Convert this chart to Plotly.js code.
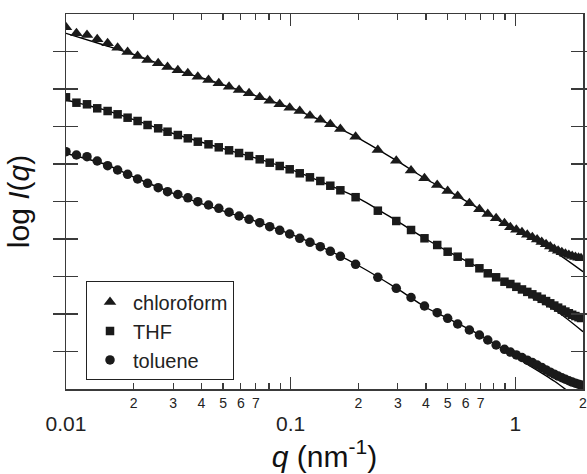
<!DOCTYPE html>
<html>
<head>
<meta charset="utf-8">
<script src="https://cdn.plot.ly/plotly-3.0.1.min.js"></script>
<style>html,body{margin:0;padding:0;background:#fff;}#chart{width:587px;height:474px;}</style>
</head>
<body>
<div id="chart"></div>
<script>
// shared scattering vector grid, q (nm^-1)
const q = [0.0100, 0.01113, 0.0124, 0.01377, 0.01532, 0.01697, 0.0188, 0.02083, 0.02307, 0.02572,
  0.02831, 0.03146, 0.03485, 0.03861, 0.04308, 0.04786, 0.05318, 0.05891, 0.06526, 0.07281,
  0.08067, 0.08936, 0.09899, 0.1097, 0.1218, 0.1355, 0.1501, 0.1664, 0.1945, 0.2443,
  0.2951, 0.3433, 0.394, 0.4489, 0.4996, 0.5537, 0.6242, 0.6918, 0.7537, 0.8211,
  0.8944, 0.95, 1.01, 1.07, 1.13, 1.19, 1.25, 1.31, 1.37, 1.43,
  1.49, 1.55, 1.61, 1.67, 1.73, 1.79, 1.85, 1.91, 1.96];

// log I(q), arbitrary offset units
const chloroform = [9.645, 9.485, 9.44, 9.325, 9.219, 9.101, 8.987, 8.88, 8.773, 8.685,
  8.587, 8.499, 8.419, 8.328, 8.24, 8.152, 8.061, 7.973, 7.885, 7.779,
  7.688, 7.592, 7.501, 7.413, 7.288, 7.181, 7.059, 6.933, 6.728, 6.373,
  6.088, 5.827, 5.619, 5.44, 5.28, 5.147, 4.952, 4.792, 4.667, 4.552,
  4.419, 4.315, 4.245, 4.18, 4.115, 4.05, 3.985, 3.92, 3.86, 3.80,
  3.735, 3.69, 3.65, 3.61, 3.575, 3.545, 3.52, 3.50, 3.485];
const thf = [7.779, 7.635, 7.592, 7.485, 7.413, 7.325, 7.235, 7.147, 7.04, 6.952,
  6.861, 6.773, 6.685, 6.595, 6.525, 6.445, 6.365, 6.293, 6.213, 6.125,
  6.035, 5.947, 5.859, 5.752, 5.645, 5.547, 5.421, 5.299, 5.115, 4.755,
  4.48, 4.24, 4.019, 3.84, 3.661, 3.528, 3.368, 3.219, 3.085, 2.979,
  2.861, 2.80, 2.725, 2.655, 2.59, 2.525, 2.465, 2.405, 2.345, 2.285,
  2.225, 2.17, 2.115, 2.065, 2.02, 1.98, 1.945, 1.915, 1.893];
const toluene = [6.328, 6.24, 6.195, 6.08, 5.955, 5.84, 5.725, 5.6, 5.485, 5.368,
  5.261, 5.187, 5.099, 4.995, 4.907, 4.819, 4.715, 4.613, 4.525, 4.435,
  4.328, 4.232, 4.133, 4.019, 3.912, 3.795, 3.672, 3.539, 3.325, 2.979,
  2.685, 2.44, 2.213, 2.035, 1.885, 1.733, 1.573, 1.44, 1.307, 1.173,
  1.059, 0.985, 0.91, 0.84, 0.77, 0.705, 0.64, 0.575, 0.51, 0.45,
  0.395, 0.345, 0.30, 0.26, 0.22, 0.185, 0.155, 0.13, 0.11];

// model fit curves
const qFit = [0.01, 0.015, 0.02, 0.03, 0.05, 0.07, 0.1, 0.15, 0.2, 0.3, 0.4, 0.5, 0.7, 1.0, 1.5, 2.0];
const fitChloroform = [9.485, 9.16, 8.92, 8.539, 8.115, 7.819, 7.499, 7.059, 6.693, 6.069, 5.6, 5.288, 4.784, 4.227, 3.653, 3.128];
const fitTHF = [7.707, 7.435, 7.181, 6.813, 6.411, 6.157, 5.856, 5.424, 5.093, 4.464, 4.0, 3.672, 3.211, 2.68, 2.107, 1.528];
const fitToluene = [6.28, 5.987, 5.653, 5.219, 4.749, 4.472, 4.128, 3.677, 3.293, 2.661, 2.173, 1.885, 1.432, 0.853, 0.2, -0.373];

const seriesNames = ['chloroform', 'THF', 'toluene'];
const majorTickVals = [0.01, 0.1, 1];
const majorTickText = ['0.01', '0.1', '1'];
const minorTickVals = [0.02, 0.03, 0.04, 0.05, 0.06, 0.07, 0.08, 0.09, 0.2, 0.3, 0.4, 0.5, 0.6, 0.7, 0.8, 0.9, 2];
const minorLabelVals = [0.02, 0.03, 0.04, 0.05, 0.06, 0.07, 0.2, 0.3, 0.4, 0.5, 0.6, 0.7, 2];
const minorLabelText = ['2', '3', '4', '5', '6', '7', '2', '3', '4', '5', '6', '7', '2'];

const FONT = 'Liberation Sans, Arial, Helvetica, sans-serif';
const INK = '#1a1a1a';
const AX = '#3a3a3a';
const CLEAR = 'rgba(0,0,0,0)';
const xRange = [Math.log10(0.01), Math.log10(2) + 1e-6];

const fitLine = (y) => ({
  x: qFit, y: y, type: 'scatter', mode: 'lines', showlegend: false, hoverinfo: 'skip',
  line: {color: '#000', width: 1.4, shape: 'spline', smoothing: 0.8}
});
const dataTrace = (y, name, symbol, size) => ({
  x: q, y: y, type: 'scatter', mode: 'markers', name: name,
  marker: {symbol: symbol, size: size, color: INK, line: {width: 0}}
});
const carrier = (xa) => ({x: [0.1], y: [null], xaxis: xa, yaxis: 'y', type: 'scatter', mode: 'markers', showlegend: false, hoverinfo: 'skip'});

const data = [
  fitLine(fitChloroform), fitLine(fitTHF), fitLine(fitToluene),
  dataTrace(chloroform, seriesNames[0], 'triangle-up', 11),
  dataTrace(thf, seriesNames[1], 'square', 8.5),
  dataTrace(toluene, seriesNames[2], 'circle', 9.5),
  carrier('x2'), carrier('x3')
];

const labelAxis = (vals, text, size, gap) => ({
  type: 'log', range: xRange, autorange: false, fixedrange: true,
  overlaying: 'x', anchor: 'y', side: 'bottom',
  tickmode: 'array', tickvals: vals, ticktext: text,
  ticks: 'outside', ticklen: gap, tickcolor: CLEAR, tickwidth: 1,
  showline: false, showgrid: false, zeroline: false,
  tickfont: {family: FONT, size: size, color: '#222'},
  ticklabeloverflow: 'allow',
  automargin: false
});

const layout = {
  width: 587, height: 474,
  margin: {l: 66, r: 4, t: 14, b: 85},
  paper_bgcolor: '#fff', plot_bgcolor: '#fff',
  font: {family: FONT, color: '#222'},
  showlegend: true,
  legend: {
    x: 0.0387, xanchor: 'left', y: 0.155, yanchor: 'middle',
    bgcolor: '#fff', bordercolor: '#222', borderwidth: 1,
    font: {family: FONT, size: 20, color: '#222'},
    itemwidth: 36,
    tracegroupgap: 0, itemclick: false
  },
  xaxis: {
    type: 'log', range: xRange, autorange: false, fixedrange: true,
    tickmode: 'array', tickvals: majorTickVals, ticktext: majorTickText,
    showticklabels: false,
    ticks: 'inside', ticklen: 12, tickwidth: 1.2, tickcolor: AX,
    minor: {tickmode: 'array', tickvals: minorTickVals, ticks: 'inside', ticklen: 6, tickwidth: 1.2, tickcolor: AX, showgrid: false},
    showline: true, linecolor: AX, linewidth: 1.5, mirror: 'allticks',
    showgrid: false, zeroline: false,
    automargin: false
  },
  // small labels of the 2..7 sub-decade ticks
  xaxis2: labelAxis(minorLabelVals, minorLabelText, 14, 1),
  // decade labels and the axis title
  xaxis3: Object.assign(labelAxis(majorTickVals, majorTickText, 21, 16), {
    title: {text: '<i>q</i> (nm<sup>-1</sup>)', font: {family: FONT, size: 30, color: '#111'}, standoff: 6}
  }),
  yaxis: {
    range: [0, 10], autorange: false, fixedrange: true,
    tick0: 0, dtick: 1, ticks: 'inside', ticklen: 12, tickwidth: 1.2, tickcolor: AX,
    showticklabels: false,
    showline: true, linecolor: AX, linewidth: 1.5, mirror: 'allticks',
    showgrid: false, zeroline: false,
    automargin: false,
    title: {text: 'log <i>I</i>(<i>q</i>)', font: {family: FONT, size: 30, color: '#111'}, standoff: 26}
  }
};

Plotly.newPlot('chart', data, layout, {staticPlot: true, displayModeBar: false});
</script>
</body>
</html>
